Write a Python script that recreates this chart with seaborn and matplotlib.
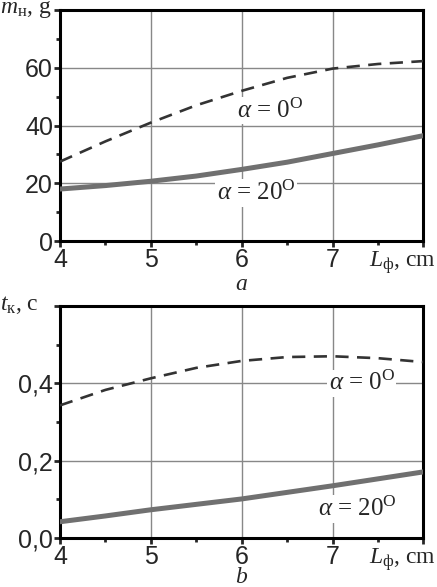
import numpy as np
import pandas as pd
import matplotlib
matplotlib.use("Agg")
import matplotlib.pyplot as plt
import seaborn as sns

# Data (x = L_f, cm)
L = [4, 4.5, 5, 5.5, 6, 6.5, 7, 7.5, 8]
m_a0 = [27.5, 34.5, 41.0, 47.0, 52.0, 56.5, 59.7, 61.3, 62.3]
m_a20 = [18.0, 19.2, 20.7, 22.5, 24.8, 27.3, 30.3, 33.3, 36.5]
t_a0 = [0.343, 0.383, 0.413, 0.440, 0.458, 0.468, 0.470, 0.465, 0.455]
t_a20 = [0.042, 0.057, 0.073, 0.087, 0.101, 0.118, 0.135, 0.153, 0.171]

sns.set_style("white")
plt.rcParams["font.family"] = ["Liberation Sans", "DejaVu Sans"]
plt.rcParams["mathtext.fontset"] = "custom"
plt.rcParams["mathtext.rm"] = "Liberation Serif"
plt.rcParams["mathtext.it"] = "Liberation Serif:italic"

fig = plt.figure(figsize=(4.37, 5.87), dpi=100)
ax1 = fig.add_axes([0.1373, 0.5894, 0.8318, 0.3936])
ax2 = fig.add_axes([0.1373, 0.0835, 0.8318, 0.3952])

df_m = pd.DataFrame({"L": L, "a0": m_a0, "a20": m_a20})
df_t = pd.DataFrame({"L": L, "a0": t_a0, "a20": t_a20})

serif = ["Liberation Serif", "DejaVu Serif"]
lab_kw = dict(fontsize=18, ha="center", va="center", family=serif,
              bbox=dict(facecolor="white", edgecolor="none", pad=1.0), zorder=4)


def style(ax, ylim, yticks, ylabels, minor):
    ax.set_xlim(4, 8)
    ax.set_ylim(*ylim)
    ax.set_xticks([4, 5, 6, 7, 8])
    ax.set_xticklabels(["4", "5", "6", "7", ""])
    ax.set_xticks([4.5, 5.5, 6.5, 7.5], minor=True)
    ax.set_yticks(yticks)
    ax.set_yticklabels(ylabels)
    ax.set_yticks(minor, minor=True)
    ax.grid(True, which="major", color="#888888", linewidth=1.0)
    ax.set_axisbelow(True)
    for s in ax.spines.values():
        s.set_linewidth(2.2)
        s.set_color("black")
        s.set_visible(True)
    ax.tick_params(which="major", direction="out", length=4, width=2,
                   labelsize=18, pad=1, bottom=True, left=True)
    ax.tick_params(which="minor", direction="out", length=3, width=2,
                   bottom=True, left=True)
    ax.set_xlabel("")
    ax.set_ylabel("")


sns.lineplot(data=df_m, x="L", y="a0", ax=ax1, color="#333333",
             linewidth=1.9, linestyle=(0, (5, 3.2)), zorder=3)
sns.lineplot(data=df_m, x="L", y="a20", ax=ax1, color="#707070",
             linewidth=3.6, zorder=3)
style(ax1, (0, 80), [0, 20, 40, 60, 80], ["0", "20", "40", "60", ""],
      [10, 30, 50, 70])
ax1.text(6.31, 45.2, r"$\alpha$ = 0$^{\rm O}$", **lab_kw)
ax1.text(6.16, 16.6, r"$\alpha$ = 20$^{\rm O}$", **lab_kw)

sns.lineplot(data=df_t, x="L", y="a0", ax=ax2, color="#333333",
             linewidth=1.9, linestyle=(0, (5, 3.2)), zorder=3)
sns.lineplot(data=df_t, x="L", y="a20", ax=ax2, color="#707070",
             linewidth=3.6, zorder=3)
style(ax2, (0, 0.6), [0, 0.2, 0.4, 0.6], ["0,0", "0,2", "0,4", ""],
      [0.1, 0.3, 0.5])
ax2.text(7.32, 0.40, r"$\alpha$ = 0$^{\rm O}$", **lab_kw)
ax2.text(7.27, 0.075, r"$\alpha$ = 20$^{\rm O}$", **lab_kw)

# axis captions
fig.text(0.0, 0.983, r"$m_{\rm н}$, g", fontsize=17, family=serif,
         ha="left", va="center")
fig.text(0.0, 0.48, r"$t_{\rm к}$, c", fontsize=17, family=serif,
         ha="left", va="center")
fig.text(0.998, 0.553, r"$L_{\rm ф}$, cm", fontsize=17, family=serif,
         ha="right", va="center")
fig.text(0.998, 0.047, r"$L_{\rm ф}$, cm", fontsize=17, family=serif,
         ha="right", va="center")
fig.text(0.553, 0.516, r"$a$", fontsize=17, family=serif,
         ha="center", va="center")
fig.text(0.553, 0.016, r"$b$", fontsize=17, family=serif,
         ha="center", va="center")

fig.savefig("out.png", dpi=100)
